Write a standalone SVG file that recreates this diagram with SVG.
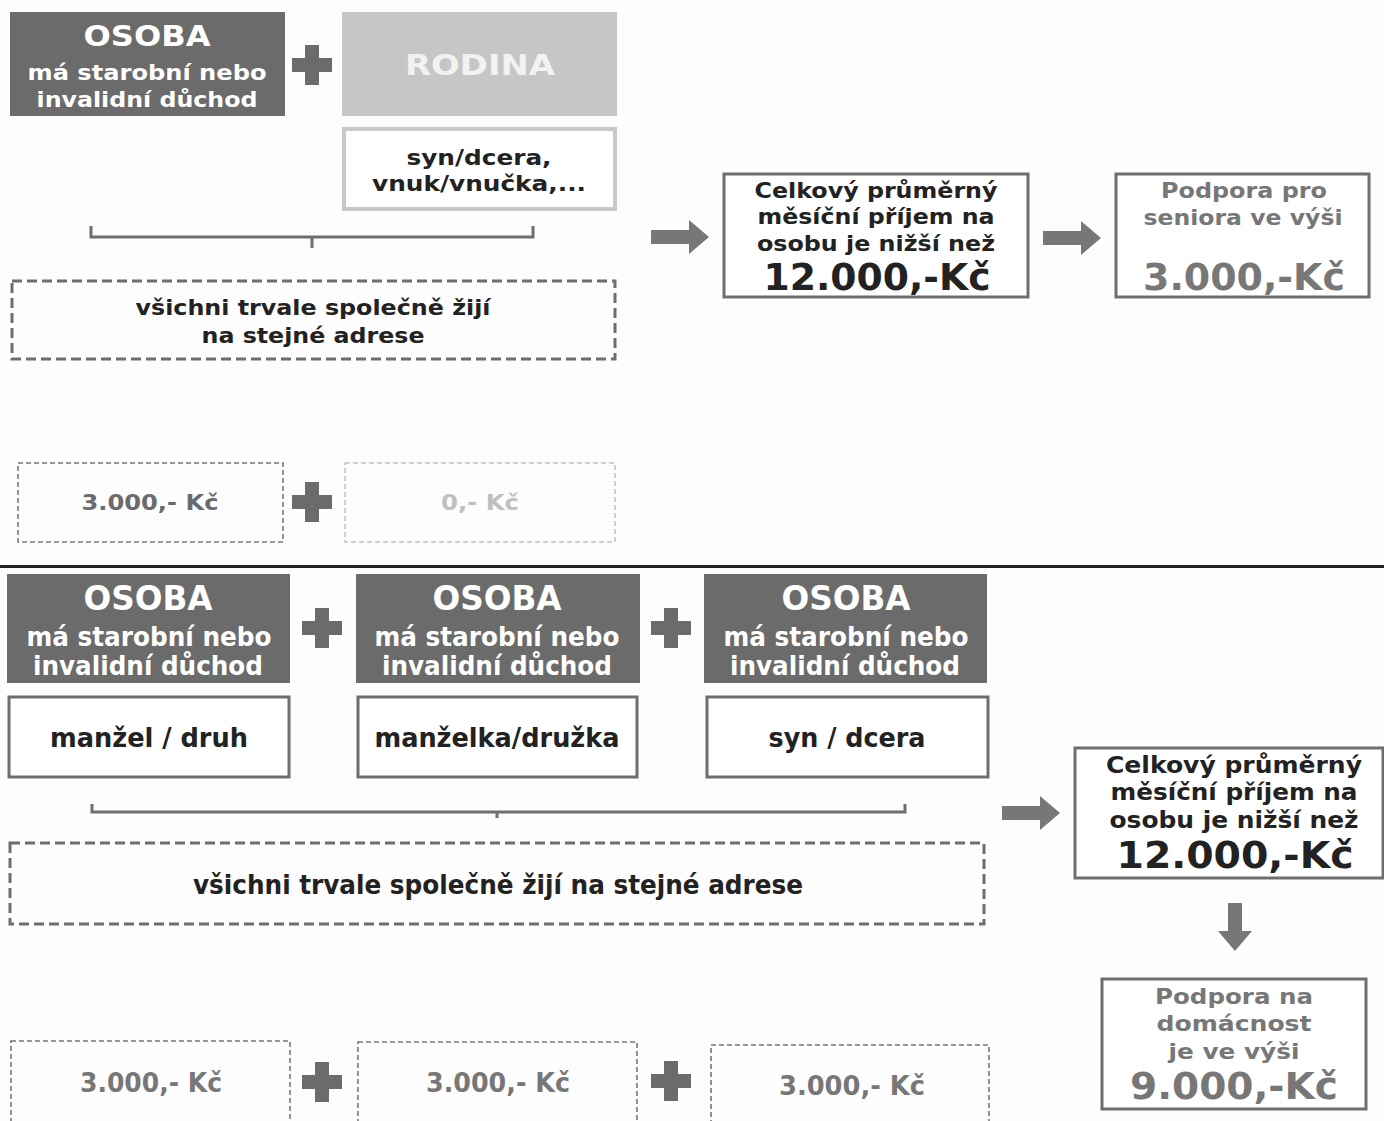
<svg xmlns="http://www.w3.org/2000/svg" width="1384" height="1121" viewBox="0 0 1384 1121">
<defs>
<style>
text{font-family:"DejaVu Sans","Verdana",sans-serif;font-weight:bold;text-anchor:middle}
.c{font-family:"DejaVu Sans Condensed","DejaVu Sans",sans-serif}
.dark{fill:#6b6b6b}
.w{fill:#ffffff}
.t{fill:#222222}
.g{fill:#777777}
.box{fill:#ffffff;stroke:#6e6e6e;stroke-width:3}
.dash{fill:none;stroke:#6e6e6e;stroke-width:3;stroke-dasharray:10 5}
.dashs{fill:none;stroke:#777;stroke-width:1.6;stroke-dasharray:5 3}
.dashl{fill:none;stroke:#c4c4c4;stroke-width:1.6;stroke-dasharray:5 3}
.brace{fill:none;stroke:#6e6e6e;stroke-width:3}
</style>
<path id="plus" d="M-7,-20 H7 V-7 H20 V7 H7 V20 H-7 V7 H-20 V-7 H-7 Z" fill="#6b6b6b"/>
<path id="arR" d="M0,-7 H38 V-17 L58,0 L38,17 V7 H0 Z" fill="#777"/>
<path id="arD" d="M-7,0 V28 H-17 L0,48 L17,28 H7 V0 Z" fill="#777"/>
</defs>
<rect width="1384" height="1121" fill="#fdfdfd"/>

<g id="top-osoba">
<rect x="10" y="12" width="275" height="104" class="dark"/>
<text x="147" y="46" font-size="29" class="w" textLength="127" lengthAdjust="spacingAndGlyphs">OSOBA</text>
<text x="147" y="80" font-size="22" class="w" textLength="239" lengthAdjust="spacingAndGlyphs">má starobní nebo</text>
<text x="147" y="107" font-size="22" class="w" textLength="221" lengthAdjust="spacingAndGlyphs">invalidní důchod</text>
</g>
<g id="top-rodina">
<rect x="342" y="12" width="275" height="104" fill="#c6c6c6"/>
<text x="480" y="75" font-size="29" fill="#f2f2f2" textLength="150" lengthAdjust="spacingAndGlyphs">RODINA</text>
</g>
<g id="top-syn">
<rect x="344" y="129" width="271" height="80" fill="#fff" stroke="#c8c8c8" stroke-width="4"/>
<text x="479" y="165" font-size="22" class="t" textLength="145" lengthAdjust="spacingAndGlyphs">syn/dcera,</text>
<text x="479" y="191" font-size="22" class="t" textLength="214" lengthAdjust="spacingAndGlyphs">vnuk/vnučka,...</text>
</g>
<g id="top-spolu">
<rect x="12" y="281" width="603" height="78" class="dash"/>
<text x="313" y="315" font-size="22" class="t" textLength="355" lengthAdjust="spacingAndGlyphs">všichni trvale společně žijí</text>
<text x="313" y="343" font-size="22" class="t" textLength="223" lengthAdjust="spacingAndGlyphs">na stejné adrese</text>
</g>
<g id="top-prijem">
<rect x="724" y="174" width="304" height="123" class="box"/>
<text x="876" y="198" font-size="22" class="t" textLength="243" lengthAdjust="spacingAndGlyphs">Celkový průměrný</text>
<text x="876" y="224" font-size="22" class="t" textLength="237" lengthAdjust="spacingAndGlyphs">měsíční příjem na</text>
<text x="876" y="251" font-size="22" class="t" textLength="238" lengthAdjust="spacingAndGlyphs">osobu je nižší než</text>
<text x="877" y="290" font-size="37" class="t" textLength="227" lengthAdjust="spacingAndGlyphs">12.000,-Kč</text>
</g>
<g id="top-podpora">
<rect x="1116" y="174" width="253" height="123" class="box" stroke="#888"/>
<text x="1244" y="198" font-size="22" class="g" textLength="166" lengthAdjust="spacingAndGlyphs">Podpora pro</text>
<text x="1243" y="225" font-size="22" class="g" textLength="199" lengthAdjust="spacingAndGlyphs">seniora ve výši</text>
<text x="1244" y="290" font-size="37" class="g" textLength="202" lengthAdjust="spacingAndGlyphs">3.000,-Kč</text>
</g>
<g id="top-3000">
<rect x="18" y="463" width="265" height="79" class="dashs"/>
<text x="150" y="510" font-size="21" fill="#6b6b6b" textLength="137" lengthAdjust="spacingAndGlyphs">3.000,- Kč</text>
</g>
<g id="top-0">
<rect x="345" y="463" width="270" height="79" class="dashl"/>
<text x="480" y="510" font-size="21" fill="#c0c0c0" textLength="78" lengthAdjust="spacingAndGlyphs">0,- Kč</text>
</g>

<rect x="0" y="565" width="1384" height="3" fill="#222"/>

<g id="b-osoba1">
<rect x="7" y="574" width="283" height="109" class="dark"/>
<text x="148" y="610" font-size="33" class="w c" textLength="129" lengthAdjust="spacingAndGlyphs">OSOBA</text>
<text x="149" y="646" font-size="26" class="w c" textLength="245" lengthAdjust="spacingAndGlyphs">má starobní nebo</text>
<text x="148" y="675" font-size="26" class="w c" textLength="230" lengthAdjust="spacingAndGlyphs">invalidní důchod</text>
</g>
<g id="b-osoba2">
<rect x="356" y="574" width="284" height="109" class="dark"/>
<text x="497" y="610" font-size="33" class="w c" textLength="129" lengthAdjust="spacingAndGlyphs">OSOBA</text>
<text x="497" y="646" font-size="26" class="w c" textLength="245" lengthAdjust="spacingAndGlyphs">má starobní nebo</text>
<text x="497" y="675" font-size="26" class="w c" textLength="230" lengthAdjust="spacingAndGlyphs">invalidní důchod</text>
</g>
<g id="b-osoba3">
<rect x="704" y="574" width="283" height="109" class="dark"/>
<text x="846" y="610" font-size="33" class="w c" textLength="129" lengthAdjust="spacingAndGlyphs">OSOBA</text>
<text x="846" y="646" font-size="26" class="w c" textLength="245" lengthAdjust="spacingAndGlyphs">má starobní nebo</text>
<text x="845" y="675" font-size="26" class="w c" textLength="230" lengthAdjust="spacingAndGlyphs">invalidní důchod</text>
</g>
<g id="b-manzel">
<rect x="9" y="697" width="280" height="80" class="box"/>
<text x="149" y="747" font-size="26" class="t c" textLength="198" lengthAdjust="spacingAndGlyphs">manžel / druh</text>
</g>
<g id="b-manzelka">
<rect x="358" y="697" width="279" height="80" class="box"/>
<text x="497" y="747" font-size="26" class="t c" textLength="245" lengthAdjust="spacingAndGlyphs">manželka/družka</text>
</g>
<g id="b-syn">
<rect x="707" y="697" width="281" height="80" class="box"/>
<text x="847" y="747" font-size="26" class="t c" textLength="157" lengthAdjust="spacingAndGlyphs">syn / dcera</text>
</g>
<g id="b-spolu">
<rect x="10" y="843" width="974" height="81" class="dash"/>
<text x="498" y="894" font-size="26" class="t c" textLength="610" lengthAdjust="spacingAndGlyphs">všichni trvale společně žijí na stejné adrese</text>
</g>
<g id="b-prijem">
<rect x="1075" y="748" width="308" height="130" class="box"/>
<text x="1234" y="773" font-size="23" class="t" textLength="256" lengthAdjust="spacingAndGlyphs">Celkový průměrný</text>
<text x="1234" y="800" font-size="23" class="t" textLength="247" lengthAdjust="spacingAndGlyphs">měsíční příjem na</text>
<text x="1234" y="828" font-size="23" class="t" textLength="249" lengthAdjust="spacingAndGlyphs">osobu je nižší než</text>
<text x="1235" y="868" font-size="38" class="t" textLength="237" lengthAdjust="spacingAndGlyphs">12.000,-Kč</text>
</g>
<g id="b-podpora">
<rect x="1102" y="979" width="264" height="130" class="box"/>
<text x="1234" y="1004" font-size="22" class="g" textLength="158" lengthAdjust="spacingAndGlyphs">Podpora na</text>
<text x="1234" y="1031" font-size="22" class="g" textLength="155" lengthAdjust="spacingAndGlyphs">domácnost</text>
<text x="1234" y="1059" font-size="22" class="g" textLength="131" lengthAdjust="spacingAndGlyphs">je ve výši</text>
<text x="1234" y="1099" font-size="37" class="g" textLength="208" lengthAdjust="spacingAndGlyphs">9.000,-Kč</text>
</g>
<g id="b-3000a">
<rect x="11" y="1041" width="279" height="90" class="dashs"/>
<text x="151" y="1092" font-size="26" class="g c" textLength="142" lengthAdjust="spacingAndGlyphs">3.000,- Kč</text>
</g>
<g id="b-3000b">
<rect x="358" y="1042" width="279" height="90" class="dashs"/>
<text x="498" y="1092" font-size="26" class="g c" textLength="144" lengthAdjust="spacingAndGlyphs">3.000,- Kč</text>
</g>
<g id="b-3000c">
<rect x="711" y="1045" width="278" height="90" class="dashs"/>
<text x="852" y="1095" font-size="26" class="g c" textLength="146" lengthAdjust="spacingAndGlyphs">3.000,- Kč</text>
</g>

<g id="connectors">
<use href="#plus" x="312" y="65"/>
<use href="#plus" x="312" y="502"/>
<use href="#plus" x="322" y="628"/>
<use href="#plus" x="671" y="628"/>
<use href="#plus" x="322" y="1082"/>
<use href="#plus" x="671" y="1081"/>
<path class="brace" d="M91,226 V237 H533 V226 M312,237 V248"/>
<path class="brace" d="M92,804 V812 H905 V804 M497,812 V818"/>
<use href="#arR" x="651" y="237"/>
<use href="#arR" x="1043" y="238"/>
<use href="#arR" x="1002" y="813"/>
<use href="#arD" x="1235" y="903"/>
</g>
</svg>
